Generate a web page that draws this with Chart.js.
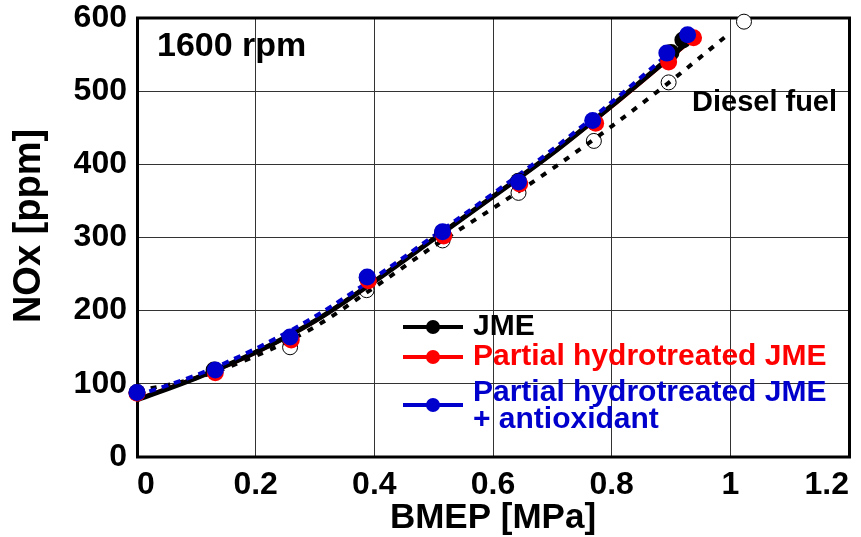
<!DOCTYPE html>
<html>
<head>
<meta charset="utf-8">
<title>NOx vs BMEP</title>
<script src="https://cdn.jsdelivr.net/npm/chart.js@4.4.0/dist/chart.umd.min.js"></script>
<style>
  html, body { margin: 0; padding: 0; background: #fff; }
  #wrap { width: 861px; height: 537px; position: relative; }
</style>
</head>
<body>
<div id="wrap"><canvas id="nox_chart" width="861" height="537"></canvas></div>
<script>
// measured points, BMEP [MPa] vs NOx [ppm]
var bmepJME   = [0, 0.13, 0.258, 0.388, 0.515, 0.643, 0.771, 0.9, 0.92];
var noxJME    = [88, 119, 163, 245, 307, 377, 458, 553, 570];
var bmepPH    = [0, 0.132, 0.26, 0.39, 0.517, 0.645, 0.773, 0.896, 0.938];
var noxPH     = [87, 115, 160, 241, 302, 373, 456, 540, 573];
var bmepPHA   = [0, 0.132, 0.258, 0.388, 0.515, 0.643, 0.768, 0.893, 0.928];
var noxPHA    = [88, 119, 164, 246, 308, 376, 460, 552, 577];
var bmepDsl   = [0, 0.13, 0.258, 0.387, 0.515, 0.643, 0.77, 0.896, 1.023];
var noxDsl    = [88, 118, 150, 228, 296, 361, 432, 512, 595];

// trend curves
var fitX      = [0, 0.1, 0.2, 0.3, 0.4, 0.5, 0.6, 0.7, 0.8, 0.93];
var fitJME    = [78, 108, 143, 186, 240, 298, 356, 415, 480, 568];
var fitPH     = [79, 108, 143, 186, 240, 298, 356, 415, 479, 567];
var fitPHA    = [84, 112, 148, 192, 245, 302, 360, 420, 485, 575];
var fitDslX   = [0, 0.1, 0.2, 0.3, 0.4, 0.5, 0.6, 0.7, 0.8, 0.9, 1.0];
var fitDsl    = [90, 108, 138, 178, 232, 288, 340, 394, 452, 514, 580];

var xTickLabels = ['0', '0.2', '0.4', '0.6', '0.8', '1', '1.2'];
var yTickLabels = ['0', '100', '200', '300', '400', '500', '600'];

var legendLabels = [['JME'], ['Partial hydrotreated JME'], ['Partial hydrotreated JME', '+ antioxidant']];
var legendColors = ['#000000', '#ff0000', '#0000cc'];

var FONT = '"Liberation Sans", Arial, sans-serif';

function pts(xs, ys) {
    return xs.map(function (x, i) { return {x: x, y: ys[i]}; });
}

function markers(label, xs, ys, color, border, r) {
    return {
        label: label,
        data: pts(xs, ys),
        showLine: false,
        pointRadius: r,
        pointHoverRadius: r,
        pointBackgroundColor: color,
        pointBorderColor: border,
        pointBorderWidth: border === color ? 0 : 1,
        clip: false
    };
}

function curve(xs, ys, color, width, dash) {
    return {
        data: pts(xs, ys),
        showLine: true,
        pointRadius: 0,
        borderColor: color,
        borderWidth: width,
        borderDash: dash,
        cubicInterpolationMode: 'monotone',
        clip: false
    };
}

// frame around the plot area, under the marks
var framePlugin = {
    id: 'frame',
    beforeDatasetsDraw: function (chart) {
        var a = chart.chartArea, c = chart.ctx;
        c.save();
        c.strokeStyle = '#000';
        c.lineWidth = 3;
        c.strokeRect(a.left + 0.5, a.top, a.right - a.left, a.bottom - a.top);
        c.restore();
    }
};

// y title, legend and notes
var notesPlugin = {
    id: 'notes',
    afterDraw: function (chart) {
        var c = chart.ctx;
        c.save();
        c.textBaseline = 'middle';
        c.fillStyle = '#000';

        c.save();
        c.translate(30, 226);
        c.rotate(-Math.PI / 2);
        c.textAlign = 'center';
        c.font = 'bold 38px ' + FONT;
        c.fillText('NOx [ppm]', 0, 0);
        c.restore();

        c.textAlign = 'left';
        c.font = 'bold 34px ' + FONT;
        c.fillText('1600 rpm', 157, 47);
        c.font = 'bold 29px ' + FONT;
        c.fillText('Diesel fuel', 692, 103);

        c.font = 'bold 30px ' + FONT;
        var rows = [327, 357, 393];
        for (var i = 0; i < legendLabels.length; i++) {
            var col = legendColors[i];
            var ly = i === 2 ? 405 : rows[i];
            c.strokeStyle = col;
            c.lineWidth = 4;
            c.beginPath();
            c.moveTo(403, ly);
            c.lineTo(463, ly);
            c.stroke();
            c.fillStyle = col;
            c.beginPath();
            c.arc(433, ly, 7, 0, Math.PI * 2);
            c.fill();
            for (var j = 0; j < legendLabels[i].length; j++) {
                c.fillText(legendLabels[i][j], 473, rows[i] + j * 27);
            }
        }
        c.restore();
    }
};

var ctx = document.getElementById('nox_chart');
var chart = new Chart(ctx, {
    type: 'scatter',
    data: {
        datasets: [
            markers('Partial hydrotreated JME + antioxidant', bmepPHA, noxPHA, '#0000cc', '#0000cc', 8.5),
            markers('Partial hydrotreated JME', bmepPH, noxPH, '#ff0000', '#ff0000', 8.5),
            markers('JME', bmepJME, noxJME, '#000000', '#000000', 8.5),
            curve(fitX, fitPHA, '#0000cc', 4, [7, 6]),
            curve(fitX, fitJME, '#000000', 5, []),
            curve(fitX, fitPH, '#ff0000', 4, []),
            curve(fitDslX, fitDsl, '#000000', 4, [6, 8]),
            markers('Diesel fuel', bmepDsl, noxDsl, '#ffffff', '#000000', 7.5)
        ]
    },
    options: {
        responsive: false,
        animation: false,
        events: [],
        layout: { padding: { top: 18, right: 12 } },
        plugins: {
            legend: { display: false },
            tooltip: { enabled: false }
        },
        scales: {
            x: {
                type: 'linear',
                min: 0,
                max: 1.2,
                ticks: {
                    stepSize: 0.2,
                    color: '#000',
                    padding: 9,
                    maxRotation: 0,
                    align: 'inner',
                    font: { family: FONT, size: 32, weight: 'bold' },
                    callback: function (v, i) { return xTickLabels[i]; }
                },
                grid: { color: '#333', lineWidth: 1, drawTicks: false },
                border: { display: false },
                title: {
                    display: true,
                    text: 'BMEP [MPa]',
                    color: '#000',
                    padding: { top: 0, bottom: 0 },
                    font: { family: FONT, size: 35, weight: 'bold', lineHeight: 1.05 }
                },
                afterFit: function (s) {
                    s.height = 80;
                    s.paddingLeft = 0;
                    s.paddingRight = 0;
                }
            },
            y: {
                type: 'linear',
                min: 0,
                max: 600,
                ticks: {
                    stepSize: 100,
                    color: '#000',
                    padding: 10,
                    font: { family: FONT, size: 32, weight: 'bold' },
                    callback: function (v, i) { return yTickLabels[i]; }
                },
                grid: { color: '#333', lineWidth: 1, drawTicks: false },
                border: { display: false },
                afterFit: function (s) {
                    s.width = 137;
                    s.paddingTop = 0;
                    s.paddingBottom = 0;
                }
            }
        }
    },
    plugins: [framePlugin, notesPlugin]
});
</script>
</body>
</html>
